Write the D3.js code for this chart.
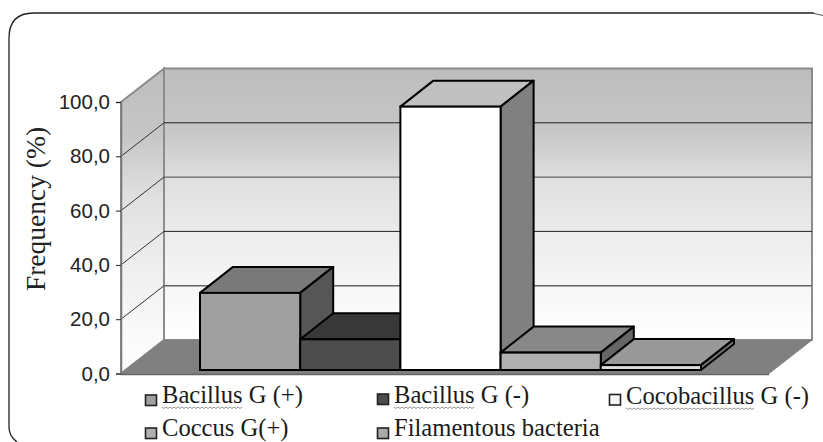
<!DOCTYPE html>
<html>
<head>
<meta charset="UTF-8">
<style>
html, body { margin: 0; padding: 0; background: #fff; overflow: hidden; }
svg { display: block; }
</style>
<script src="https://d3js.org/d3.v7.min.js"></script>
</head>
<body>
<script>
var width = 823, height = 442;

// data
var categories = ['Bacillus G (+)', 'Bacillus G (-)', 'Cocobacillus G (-)', 'Coccus G(+)', 'Filamentous bacteria'];
var frequency = [28.4, 11.3, 97, 6.4, 1.8];
var yTicks = [0, 20, 40, 60, 80, 100];
var frontColors = ['#a0a0a0', '#4d4d4d', '#ffffff', '#b0b0b0', '#dddddd'];
var topColors = ['#797979', '#383838', '#c0c0c0', '#888888', '#999999'];
var sideColors = ['#565656', '#383838', '#808080', '#666666', '#777777'];
var legendColors = ['#a0a0a0', '#4d4d4d', '#f8f8f8', '#b0b0b0', '#aaaaaa'];
var spellUnderlined = [true, true, true, false, false];

var svg = d3.select('body').append('svg').attr('width', width).attr('height', height);

// scales: y on the front edge of the box, x over the floor
var y = d3.scaleLinear().domain([0, 100]).range([373.5, 102]);
var x = d3.scaleLinear().domain([0, 1]).range([121, 769]);
var band = d3.scaleBand().domain(categories).range([200, 701]);

// depth of the box, and where the bars sit inside it
var depthX = 43, depthY = -33.5;
var barInsetY = -3.5;
var barDepthX = 33, barDepthY = -26;

var line = d3.line();

// frame, runs off the bottom of the picture
svg.append('path')
  .attr('d', 'M17,' + height + ' Q9,436 9,427 L9,38 Q9,13 34,13 L814,13')
  .attr('fill', 'none').attr('stroke', '#222').attr('stroke-width', 1.3);
svg.append('path')
  .attr('d', 'M814,13.5 L823,15.5')
  .attr('fill', 'none').attr('stroke', '#555').attr('stroke-width', 1);

var defs = svg.append('defs');
var wallGrad = defs.append('linearGradient').attr('id', 'wall').attr('x1', 0).attr('x2', 0).attr('y1', 0).attr('y2', 1);
wallGrad.append('stop').attr('offset', '0%').attr('stop-color', '#bdbdbd');
wallGrad.append('stop').attr('offset', '22%').attr('stop-color', '#c6c6c6');
wallGrad.append('stop').attr('offset', '42%').attr('stop-color', '#e0e0e0');
wallGrad.append('stop').attr('offset', '75%').attr('stop-color', '#f4f4f4');
wallGrad.append('stop').attr('offset', '100%').attr('stop-color', '#ffffff');

var yMax = y(100), y0 = y(0);

// back wall
svg.append('path')
  .attr('d', line([[x(0) + depthX, yMax + depthY], [x(1) + depthX, yMax + depthY], [x(1) + depthX, y0 + depthY], [x(0) + depthX, y0 + depthY]]) + 'Z')
  .attr('fill', 'url(#wall)').attr('stroke', '#8c8c8c').attr('stroke-width', 2);

// side wall
svg.append('path')
  .attr('d', line([[x(0), yMax], [x(0) + depthX, yMax + depthY], [x(0) + depthX, y0 + depthY], [x(0), y0]]) + 'Z')
  .attr('fill', 'url(#wall)').attr('stroke', '#8c8c8c').attr('stroke-width', 2);

// floor
svg.append('path')
  .attr('d', line([[x(0), y0], [x(0) + depthX, y0 + depthY], [x(1) + depthX, y0 + depthY], [x(1), y0]]) + 'Z')
  .attr('fill', '#808080').attr('stroke', '#808080').attr('stroke-width', 1);

// gridlines, back wall then side wall
var gridTicks = yTicks.filter(function(d) { return d > 0 && d < 100; });
svg.selectAll('.gridBack').data(gridTicks).join('line')
  .attr('class', 'gridBack')
  .attr('x1', x(0) + depthX).attr('x2', x(1) + depthX)
  .attr('y1', function(d) { return y(d) + depthY; })
  .attr('y2', function(d) { return y(d) + depthY; })
  .attr('stroke', function(d) { return d === 80 || d === 40 ? '#222' : '#666'; })
  .attr('stroke-width', function(d) { return d === 80 || d === 40 ? 1 : 1.4; });
svg.selectAll('.gridSide').data(gridTicks).join('line')
  .attr('class', 'gridSide')
  .attr('x1', x(0)).attr('x2', x(0) + depthX)
  .attr('y1', function(d) { return y(d); })
  .attr('y2', function(d) { return y(d) + depthY; })
  .attr('stroke', '#333').attr('stroke-width', 1);

// front edge of the floor and the y axis
svg.append('g')
  .attr('transform', 'translate(' + x(0) + ',0)')
  .call(d3.axisLeft(y).tickValues(yTicks).tickSize(5).tickPadding(6)
    .tickFormat(function(d) { return d3.format('.1f')(d).replace('.', ','); }))
  .call(function(g) {
    g.selectAll('path.domain').attr('stroke', '#777').attr('stroke-width', 1.5);
    g.selectAll('.tick line').attr('stroke', '#222');
    g.selectAll('text').attr('font-family', '"Liberation Sans", Arial, sans-serif')
      .attr('font-size', 20.5).attr('fill', '#222');
  });
svg.append('line')
  .attr('x1', x(0)).attr('x2', x(1)).attr('y1', y0 + 1).attr('y2', y0 + 1)
  .attr('stroke', '#666').attr('stroke-width', 1.5);

// bars, drawn left to right so neighbours overlap as in the original
var bars = svg.selectAll('.bar').data(categories).join('g').attr('class', 'bar');
bars.each(function(name, i) {
  var g = d3.select(this);
  var left = band(name), right = left + band.bandwidth();
  var base = y0 + barInsetY;
  var top = y(frequency[i]) + barInsetY;
  // top face
  g.append('path')
    .attr('d', line([[left, top], [left + barDepthX, top + barDepthY], [right + barDepthX, top + barDepthY], [right, top]]) + 'Z')
    .attr('fill', topColors[i]).attr('stroke', '#000').attr('stroke-width', 2).attr('stroke-linejoin', 'round');
  // right face
  g.append('path')
    .attr('d', line([[right, top], [right + barDepthX, top + barDepthY], [right + barDepthX, base + barDepthY], [right, base]]) + 'Z')
    .attr('fill', sideColors[i]).attr('stroke', '#000').attr('stroke-width', 2).attr('stroke-linejoin', 'round');
  // front face
  g.append('rect')
    .attr('x', left).attr('y', top).attr('width', right - left).attr('height', base - top)
    .attr('fill', frontColors[i]).attr('stroke', '#000').attr('stroke-width', 2);
});

// axis title
svg.append('text')
  .attr('transform', 'translate(45,209) rotate(-90)')
  .attr('text-anchor', 'middle')
  .attr('font-family', '"Liberation Serif", "Times New Roman", serif')
  .attr('font-size', 27.5).attr('fill', '#222')
  .text('Frequency (%)');

// legend
var legendX = d3.scaleOrdinal().domain(categories).range([145, 377, 609, 145, 377]);
var legendBase = d3.scaleOrdinal().domain(categories).range([403, 403, 404, 436, 436]);
var legendBoxY = d3.scaleOrdinal().domain(categories).range([395, 394, 394.5, 428, 428]);
var legend = svg.selectAll('.legend').data(categories).join('g').attr('class', 'legend');
legend.append('rect')
  .attr('x', function(d) { return legendX(d) + 0.5; })
  .attr('y', function(d) { return legendBoxY(d); })
  .attr('width', 11).attr('height', 10.5)
  .attr('fill', function(d, i) { return legendColors[i]; })
  .attr('stroke', '#222').attr('stroke-width', 1.6);
legend.append('text')
  .attr('x', function(d) { return legendX(d) + 17; })
  .attr('y', function(d) { return legendBase(d); })
  .attr('font-family', '"Liberation Serif", "Times New Roman", serif')
  .attr('font-size', 24.6).attr('fill', '#1a1a1a')
  .text(function(d) { return d; });

// spell-check squiggle under the unknown words
legend.filter(function(d, i) { return spellUnderlined[i]; }).each(function(d) {
  var word = d.split(' ')[0];
  var t = d3.select(this).select('text');
  var len = t.node().getSubStringLength(0, word.length);
  var pts = d3.range(0, Math.floor(len / 2) + 1).map(function(k) {
    return [legendX(d) + 17 + k * 2, legendBase(d) + 4 + (k % 2) * 1.5];
  });
  d3.select(this).append('path').attr('d', line(pts))
    .attr('fill', 'none').attr('stroke', '#777').attr('stroke-width', 0.8);
});
</script>
</body>
</html>
